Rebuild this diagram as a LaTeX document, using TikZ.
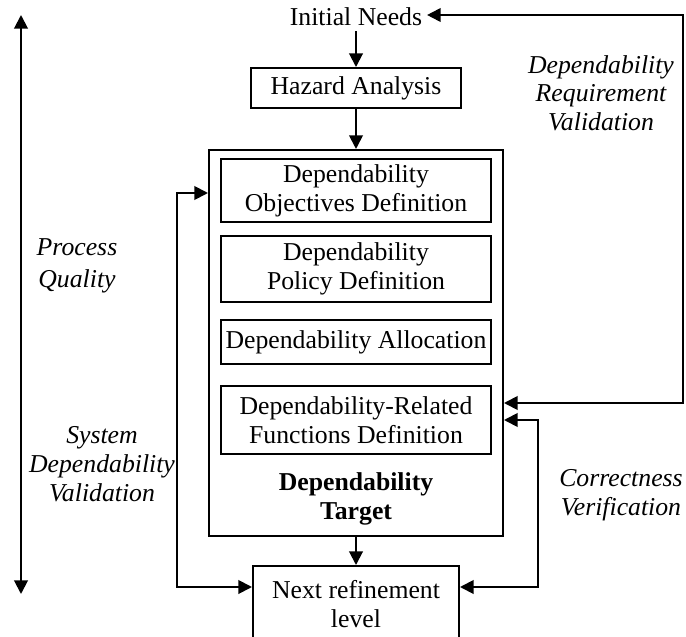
\documentclass[tikz,border=0pt]{standalone}
\usepackage{fontspec}
\setmainfont{Liberation Serif}
\usetikzlibrary{arrows.meta, positioning, calc}

\begin{document}
\begin{tikzpicture}[
    x=0.025cm, y=-0.025cm,
    every node/.style={font=\fontsize{18.3}{20.6}\selectfont},
    block/.style={rectangle, draw, line width=1.4pt, align=center, inner sep=0pt},
    note/.style={font=\fontsize{18.3}{20.4}\selectfont\itshape, align=center},
    arrow/.style={-{Triangle[length=0.34cm, width=0.34cm]}, line width=1.4pt},
    both/.style={{Triangle[length=0.34cm, width=0.34cm]}-{Triangle[length=0.34cm, width=0.34cm]}, line width=1.4pt}
]
\useasboundingbox (0,0) rectangle (686,637);
\clip (0,0) rectangle (686,637);

% Top of the flow
\node (init) at (356,17) {Initial Needs};
\node[block, minimum width=5.25cm, minimum height=1cm] (hazard) at (356,88) {Hazard Analysis};

% Dependability target
\node[block, minimum width=7.35cm, minimum height=9.65cm] (target) at (356,343) {};
\node[block, minimum width=6.75cm, minimum height=1.575cm] (obj) at (356,190.5) {Dependability\\Objectives Definition};
\node[block, minimum width=6.75cm, minimum height=1.65cm] (pol) at (356,269) {Dependability\\Policy Definition};
\node[block, minimum width=6.75cm, minimum height=1.1cm] (alloc) at (356,342) {Dependability Allocation};
\node[block, minimum width=6.75cm, minimum height=1.7cm] (func) at (356,420) {Dependability-Related\\Functions Definition};
\node[align=center, font=\fontsize{18.3}{20.6}\selectfont\bfseries] (tlabel) at (356,499) {Dependability\\Target};

% Next level
\node[block, minimum width=5.15cm, minimum height=1.9cm] (next) at (356,604) {Next refinement\\level};

% Side labels
\node[note, font=\fontsize{18.3}{22.5}\selectfont\itshape] (pq) at (77,266) {Process\\Quality};
\node[note] (sdv) at (102,464) {System\\Dependability\\Validation};
\node[note] (drv) at (601,93) {Dependability\\Requirement\\Validation};
\node[note] (cv) at (621,495) {Correctness\\Verification};

% Corners
\coordinate (pqtop) at (21,15);
\coordinate (pqbot) at (21,594);
\coordinate (lb) at (177,587);
\coordinate (lt) at (177,193);
\coordinate (rtop) at (683,15);
\coordinate (rbot) at (683,403);
\coordinate (cb) at (538,587);
\coordinate (ct) at (538,420);

% Arrows
\draw[arrow] (init) -- (hazard);
\draw[arrow] (hazard) -- (target);
\draw[arrow] (target) -- (next);
\draw[both] (pqtop) -- (pqbot);
\draw[both] (lt -| target.west) -- (lt) -- (lb) -- (lb -| next.west);
\draw[both] (init.east |- rtop) -- (rtop) -- (rbot) -- (rbot -| target.east);
\draw[both] (ct -| target.east) -- (ct) -- (cb) -- (cb -| next.east);

\end{tikzpicture}
\end{document}
